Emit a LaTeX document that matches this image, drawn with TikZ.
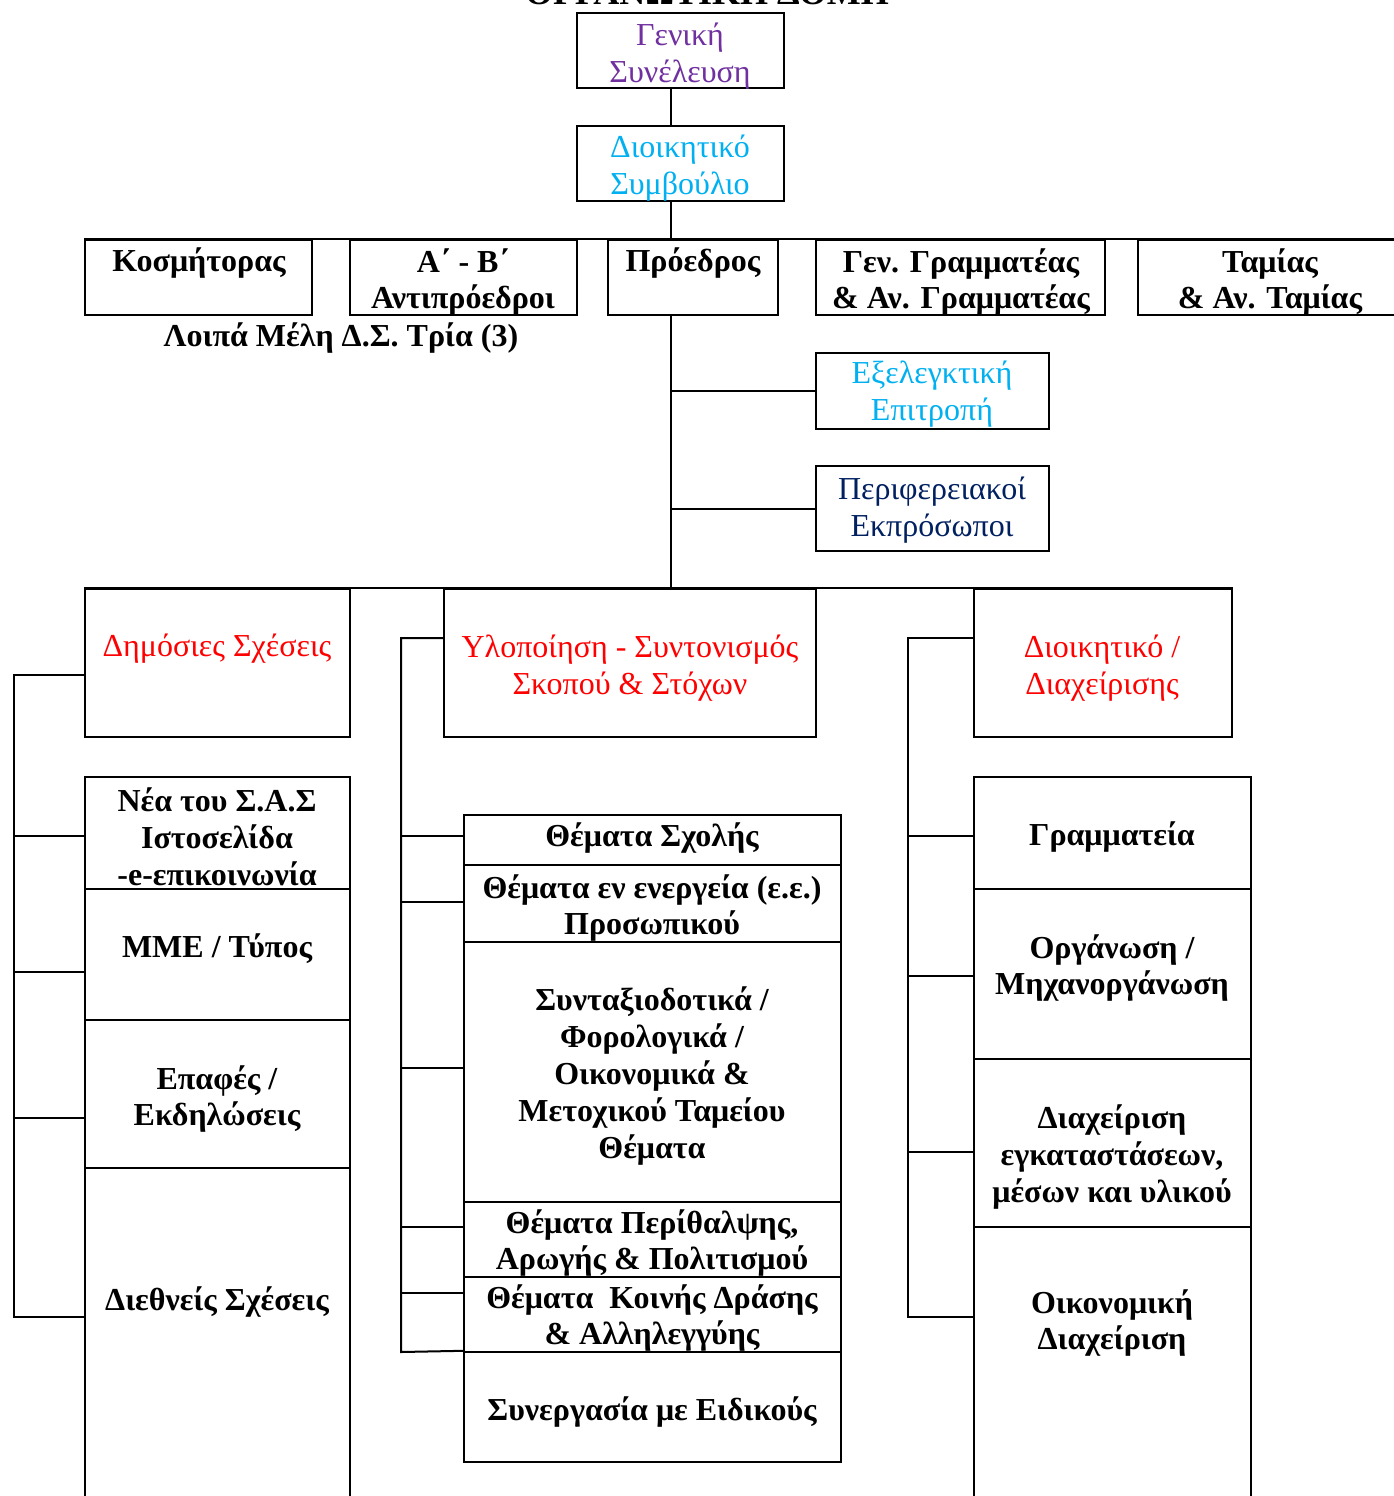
\documentclass[tikz,border=0pt]{standalone}
\usepackage{fontspec}
\setmainfont{Liberation Serif}
\usetikzlibrary{fit}
\definecolor{cpurple}{HTML}{7030A0}
\definecolor{ccyan}{HTML}{00B0F0}
\definecolor{cnavy}{HTML}{002060}
\definecolor{cred}{HTML}{FF0000}
\begin{document}
\begin{tikzpicture}[x=0.5pt,y=-0.5pt,
  box/.style={draw, line width=1.2pt, inner sep=0pt},
  wire/.style={line width=1pt},
  bt/.style={font=\bfseries\fontsize{16}{18.4}\selectfont, align=center, inner sep=0pt, yshift=-1.5pt},
  ct/.style={font=\fontsize{16}{18.4}\selectfont, align=center, inner sep=0pt, yshift=-1.5pt}]
\useasboundingbox (0,0) rectangle (1394,1496);
% title (cut off at top, as in the reference)
\node[anchor=base, inner sep=0pt, font=\bfseries\fontsize{18}{20}\selectfont] (title) at (707,4) {ΟΡΓΑΝΩΤΙΚΗ ΔΟΜΗ};
% top boxes
\node[box, fit={(577,13) (784,88)}] (gs) {};
\node[ct, text=cpurple] (gst) at (680,53) {Γενική\\Συνέλευση};
\node[box, fit={(577,126) (784,201)}] (ds) {};
\node[ct, text=ccyan] (dst) at (680,165) {Διοικητικό\\Συμβούλιο};
% board row
\node[box, fit={(85,240) (312,315)}] (kosm) {};
\node[bt] (kosmt) at (199,260) {Κοσμήτορας};
\node[box, fit={(350,240) (577,315)}] (antip) {};
\node[bt] (antipt) at (463,279) {Α΄ - Β΄\\Αντιπρόεδροι};
\node[box, fit={(608,240) (778,315)}] (pro) {};
\node[bt] (prot) at (693,260) {Πρόεδρος};
\node[box, fit={(816,240) (1105,315)}] (gram) {};
\node[bt] (gramt) at (961,279) {Γεν. Γραμματέας\\\& Αν. Γραμματέας};
\node[box, fit={(1138,240) (1402,315)}] (tam) {};
\node[bt] (tamt) at (1270,279) {Ταμίας\\\& Αν. Ταμίας};
\node[bt] (loipa) at (341,335) {Λοιπά Μέλη Δ.Σ. Τρία (3)};
% committees
\node[box, fit={(816,353) (1049,429)}] (exel) {};
\node[ct, text=ccyan] (exelt) at (932,391) {Εξελεγκτική\\Επιτροπή};
\node[box, fit={(816,466) (1049,551)}] (per) {};
\node[ct, text=cnavy] (pert) at (932,507) {Περιφερειακοί\\Εκπρόσωποι};
% departments
\node[box, fit={(85,589) (350,737)}] (dim) {};
\node[ct, text=cred] (dimt) at (217,646) {Δημόσιες Σχέσεις};
\node[box, fit={(444,589) (816,737)}] (ylo) {};
\node[ct, text=cred] (ylot) at (630,665) {Υλοποίηση - Συντονισμός\\Σκοπού \& Στόχων};
\node[box, fit={(974,589) (1232,737)}] (dio) {};
\node[ct, text=cred] (diot) at (1102,665) {Διοικητικό /\\Διαχείρισης};
% left stack
\node[box, fit={(85,777) (350,889)}] (l1) {};
\node[bt] (l1t) at (217,834) {Νέα του Σ.Α.Σ\\Ιστοσελίδα\\-e-επικοινωνία};
\node[box, fit={(85,889) (350,1020)}] (l2) {};
\node[bt] (l2t) at (217,946) {ΜΜΕ / Τύπος};
\node[box, fit={(85,1020) (350,1168)}] (l3) {};
\node[bt] (l3t) at (217,1096) {Επαφές /\\Εκδηλώσεις};
\node[box, fit={(85,1168) (350,1504)}] (l4) {};
\node[bt] (l4t) at (217,1299) {Διεθνείς Σχέσεις};
% middle stack
\node[box, fit={(464,815) (841,865)}] (m1) {};
\node[bt] (m1t) at (652,835) {Θέματα Σχολής};
\node[box, fit={(464,865) (841,942)}] (m2) {};
\node[bt] (m2t) at (652,905) {Θέματα εν ενεργεία (ε.ε.)\\Προσωπικού};
\node[box, fit={(464,942) (841,1202)}] (m3) {};
\node[bt] (m3t) at (652,1073) {Συνταξιοδοτικά /\\Φορολογικά /\\Οικονομικά \&\\Μετοχικού Ταμείου\\Θέματα};
\node[box, fit={(464,1202) (841,1277)}] (m4) {};
\node[bt] (m4t) at (652,1240) {Θέματα Περίθαλψης,\\Αρωγής \& Πολιτισμού};
\node[box, fit={(464,1277) (841,1352)}] (m5) {};
\node[bt] (m5t) at (652,1315) {Θέματα\ \ Κοινής Δράσης\\\& Αλληλεγγύης};
\node[box, fit={(464,1352) (841,1462)}] (m6) {};
\node[bt] (m6t) at (652,1409) {Συνεργασία με Ειδικούς};
% right stack
\node[box, fit={(974,777) (1251,889)}] (r1) {};
\node[bt] (r1t) at (1112,834) {Γραμματεία};
\node[box, fit={(974,889) (1251,1059)}] (r2) {};
\node[bt] (r2t) at (1112,965) {Οργάνωση /\\Μηχανοργάνωση};
\node[box, fit={(974,1059) (1251,1227)}] (r3) {};
\node[bt] (r3t) at (1112,1154) {Διαχείριση\\εγκαταστάσεων,\\μέσων και υλικού};
\node[box, fit={(974,1227) (1251,1504)}] (r4) {};
\node[bt] (r4t) at (1112,1320) {Οικονομική\\Διαχείριση};
% main trunk
\draw[wire] (gs.south -| 671,0) -- (ds.north -| 671,0);
\draw[wire] (ds.south -| 671,0) -- (kosm.north -| 671,0);
\draw[box] (kosm.north west) -- (tam.north east);
\coordinate (pb) at (671,315);
\coordinate (db) at (671,589);
\draw[wire] (pb) -- (db);
\draw[wire] (pb |- exel.west) -- (exel.west);
\draw[wire] (pb |- per.west) -- (per.west);
\draw[box] (dim.north west) -- (dio.north east);
% left tree
\coordinate (La) at (14,675);
\coordinate (Lb) at (14,1317);
\draw[wire] (dim.west |- La) -- (La) -- (Lb) -- (l4.west |- Lb);
\draw[wire] (14,836) -- (l1.west |- 14,836);
\draw[wire] (14,972) -- (l2.west |- 14,972);
\draw[wire] (14,1118) -- (l3.west |- 14,1118);
% middle tree
\coordinate (Ma) at (401,638);
\coordinate (Mb) at (401,1352);
\draw[wire] (ylo.west |- Ma) -- (Ma) -- (Mb) -- (m6.north west);
\draw[wire] (401,836) -- (m1.west |- 401,836);
\draw[wire] (401,902) -- (m2.west |- 401,902);
\draw[wire] (401,1068) -- (m3.west |- 401,1068);
\draw[wire] (401,1227) -- (m4.west |- 401,1227);
\draw[wire] (401,1293) -- (m5.west |- 401,1293);
% right tree
\coordinate (Ra) at (908,638);
\coordinate (Rb) at (908,1317);
\draw[wire] (dio.west |- Ra) -- (Ra) -- (Rb) -- (r4.west |- Rb);
\draw[wire] (908,836) -- (r1.west |- 908,836);
\draw[wire] (908,976) -- (r2.west |- 908,976);
\draw[wire] (908,1152) -- (r3.west |- 908,1152);
\end{tikzpicture}
\end{document}
